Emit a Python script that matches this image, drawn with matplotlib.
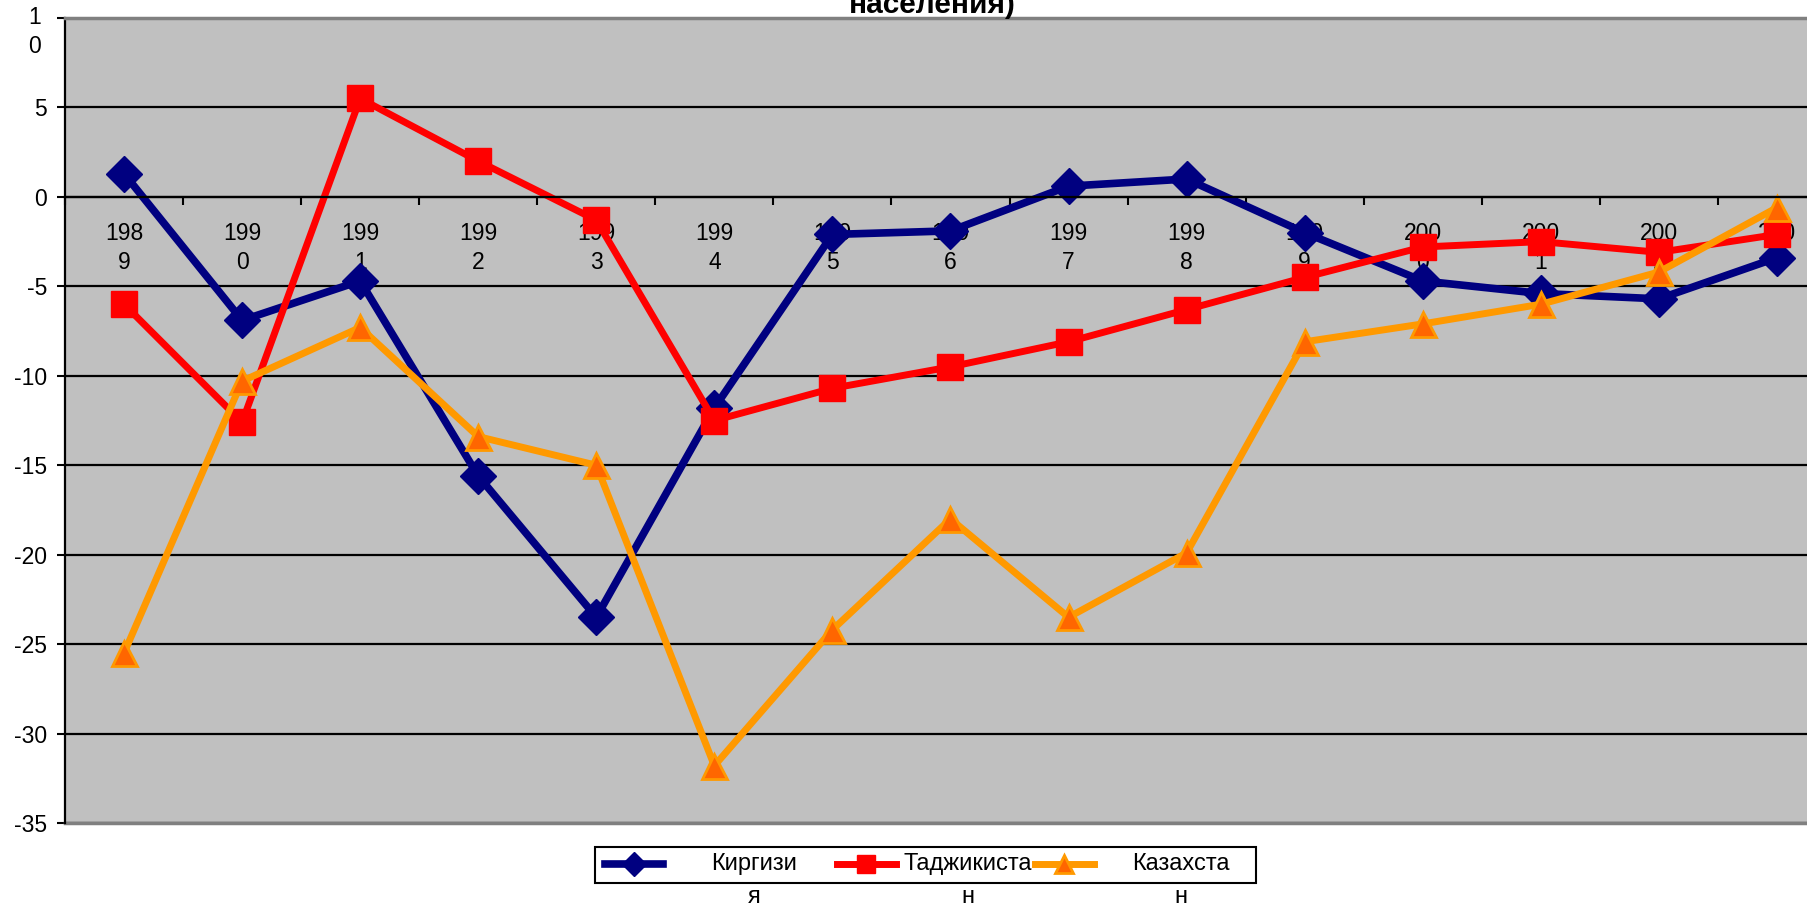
import numpy as np
import matplotlib
matplotlib.use('Agg')
import matplotlib.pyplot as plt
from matplotlib.lines import Line2D
from matplotlib.patches import Rectangle
from matplotlib.transforms import blended_transform_factory, ScaledTranslation

plt.rcParams['font.family'] = ['Liberation Sans', 'DejaVu Sans']

years = ['198\n9', '199\n0', '199\n1', '199\n2', '199\n3', '199\n4', '199\n5', '199\n6',
         '199\n7', '199\n8', '199\n9', '200\n0', '200\n1', '200\n2', '200\n3']
kyrgyz = [1.3, -6.9, -4.7, -15.6, -23.5, -11.8, -2.1, -1.9, 0.6, 1.0, -2.0, -4.7, -5.4, -5.7, -3.4]
tajik = [-6.0, -12.6, 5.5, 2.0, -1.3, -12.5, -10.7, -9.5, -8.1, -6.3, -4.5, -2.8, -2.5, -3.1, -2.1]
kazakh = [-25.5, -10.3, -7.3, -13.4, -15.0, -31.8, -24.2, -18.0, -23.5, -19.9, -8.1, -7.1, -6.0, -4.2, -0.6]
names = ['Киргизи', 'Таджикиста', 'Казахста']
name_tails = ['я', 'н', 'н']
yticks = [10, 5, 0, -5, -10, -15, -20, -25, -30, -35]

W, H = 1808, 905
fs = 16.5


def fx(px):
    return px / W


def fy(py):
    return 1 - py / H


fig = plt.figure(figsize=(W / 100, H / 100), dpi=100)
fig.set_facecolor('white')
ax = fig.add_axes([fx(65), fy(823), fx(1836) - fx(65), fy(18) - fy(823)])
ax.set_facecolor('#c0c0c0')

x = np.arange(len(years))
l1, = ax.plot(x, kyrgyz, color='#000080', lw=5.5, marker='D', ms=18,
              mfc='#000080', mec='#000080', clip_on=False)
l2, = ax.plot(x, tajik, color='#ff0000', lw=5, marker='s', ms=19,
              mfc='#ff0000', mec='#ff0000', clip_on=False)
l3, = ax.plot(x, kazakh, color='#ff9900', lw=5, marker='^', ms=18,
              mfc='#ff6600', mec='#ff9900', mew=2, clip_on=False)

ax.set_xlim(-0.5, len(years) - 0.5)
ax.set_ylim(-35, 10)

# y axis
ax.set_yticks(yticks)
ax.set_yticklabels([''] + [str(v) for v in yticks[1:]], fontsize=fs)
ax.tick_params(axis='y', length=6, width=1.5, pad=7, direction='out')
trans = blended_transform_factory(fig.transFigure, ax.transData)
ax.text(fx(35), 10, '1\n0', transform=trans + ScaledTranslation(0, 12 / 100, fig.dpi_scale_trans),
        ha='center', va='top', fontsize=fs, linespacing=1.35)
ax.grid(axis='y', color='black', lw=1.6)
ax.set_axisbelow('line')

# category axis crosses at zero
ax.spines['bottom'].set_position(('data', 0))
ax.spines['bottom'].set_color('black')
ax.spines['bottom'].set_linewidth(1.6)
ax.set_xticks(np.arange(-0.5, len(years), 1.0))
ax.set_xticklabels([])
ax.tick_params(axis='x', which='major', length=6, width=1.5, direction='out')
ax.set_xticks(x, minor=True)
ax.set_xticklabels(years, minor=True, fontsize=fs, linespacing=1.35)
ax.tick_params(axis='x', which='minor', length=0, pad=18)

ax.spines['top'].set_color('#808080')
ax.spines['top'].set_linewidth(2.5)
ax.spines['left'].set_color('black')
ax.spines['left'].set_linewidth(1.6)
ax.spines['right'].set_visible(False)
ax.axhline(-35, color='#808080', lw=2.5, clip_on=False)

fig.text(fx(932), fy(13), 'населения)', ha='center', va='baseline',
         fontsize=21.5, fontweight='bold')

# legend box, Excel style: label centred in the space after each key
fig.add_artist(Rectangle((fx(595), fy(883)), fx(1256) - fx(595), fy(847) - fy(883),
                         transform=fig.transFigure, facecolor='white',
                         edgecolor='black', lw=1.5))
key_spans = [(605, 663), (837, 896), (1035, 1094)]
label_x = [754, 968, 1181]
key_ms = [12, 13, 13]
for line, (k0, k1), lx, ms, name, tail in zip([l1, l2, l3], key_spans, label_x,
                                               key_ms, names, name_tails):
    fig.add_artist(Line2D([fx(k0), fx((k0 + k1) / 2), fx(k1)], [fy(864)] * 3,
                          transform=fig.transFigure, color=line.get_color(),
                          lw=line.get_linewidth(), marker=line.get_marker(),
                          markevery=[1], ms=ms, mfc=line.get_markerfacecolor(),
                          mec=line.get_markeredgecolor(), mew=line.get_markeredgewidth()))
    fig.text(fx(lx), fy(864), name, ha='center', va='center', fontsize=17)
    fig.text(fx(lx), fy(897), tail, ha='center', va='center', fontsize=17)

plt.savefig('out.png', dpi=100)
